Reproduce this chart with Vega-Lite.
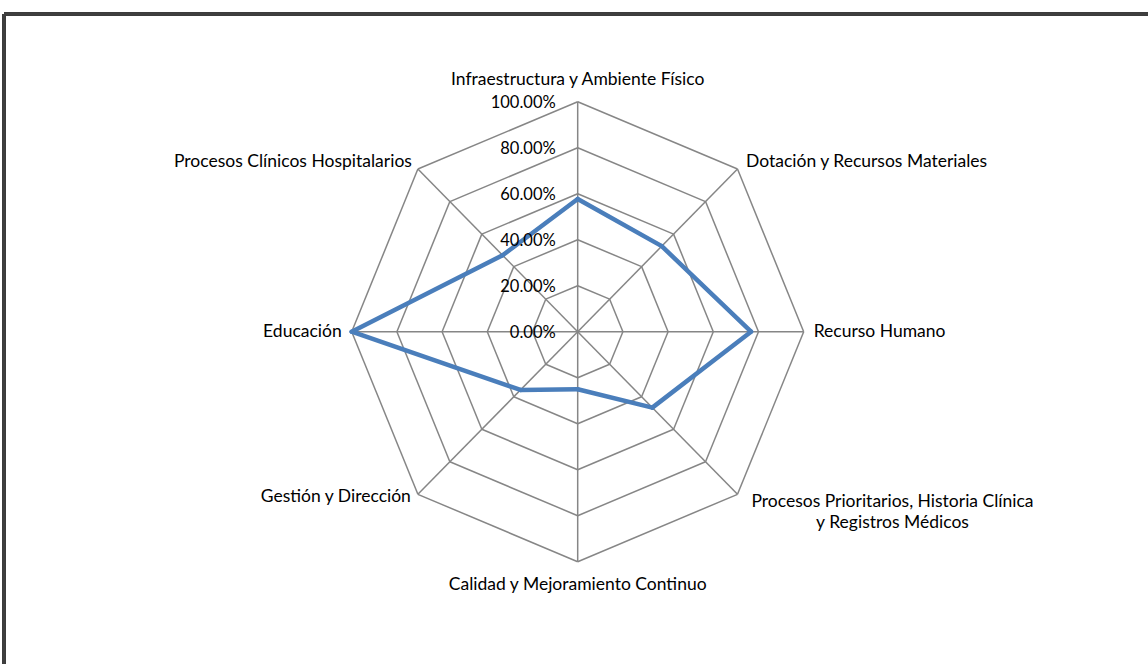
{
  "$schema": "https://vega.github.io/schema/vega-lite/v6.json",
  "width": 1144,
  "height": 650,
  "autosize": {"type": "none"},
  "padding": {"left": 4, "top": 14, "right": 0, "bottom": 0},
  "background": "white",
  "config": {
    "view": {"stroke": null},
    "text": {"font": "Lato", "fontSize": 17.5, "color": "#000000", "lineBreak": "\n", "lineHeight": 21}
  },
  "datasets": {
    "axes": [
      {"i": 0, "label": "Infraestructura y Ambiente Físico", "value": 0.577},
      {"i": 1, "label": "Dotación y Recursos Materiales", "value": 0.526},
      {"i": 2, "label": "Recurso Humano", "value": 0.767},
      {"i": 3, "label": "Procesos Prioritarios, Historia Clínica\ny Registros Médicos", "value": 0.467},
      {"i": 4, "label": "Calidad y Mejoramiento Continuo", "value": 0.25},
      {"i": 5, "label": "Gestión y Dirección", "value": 0.358},
      {"i": 6, "label": "Educación", "value": 1.0},
      {"i": 7, "label": "Procesos Clínicos Hospitalarios", "value": 0.47}
    ],
    "levels": [
      {"level": 0, "i": [0, 1, 2, 3, 4, 5, 6, 7]},
      {"level": 0.2, "i": [0, 1, 2, 3, 4, 5, 6, 7]},
      {"level": 0.4, "i": [0, 1, 2, 3, 4, 5, 6, 7]},
      {"level": 0.6, "i": [0, 1, 2, 3, 4, 5, 6, 7]},
      {"level": 0.8, "i": [0, 1, 2, 3, 4, 5, 6, 7]},
      {"level": 1.0, "i": [0, 1, 2, 3, 4, 5, 6, 7]}
    ]
  },
  "layer": [
    {
      "data": {"name": "levels"},
      "transform": [{"flatten": ["i"]}],
      "mark": {"type": "rule", "color": "#3f3f3f", "strokeWidth": 2.5},
      "encoding": {
        "y": {"datum": 1.3813, "type": "quantitative", "scale": {"domain": [-1.4448, 1.3813], "nice": false, "zero": false}, "axis": null}
      }
    },
    {
      "data": {"name": "levels"},
      "transform": [{"flatten": ["i"]}],
      "mark": {"type": "rule", "color": "#3f3f3f", "strokeWidth": 2.5},
      "encoding": {
        "x": {"datum": -2.5385, "type": "quantitative", "scale": {"domain": [-2.5385, 2.5235], "nice": false, "zero": false}, "axis": null}
      }
    },
    {
      "data": {"name": "levels"},
      "transform": [
        {"flatten": ["i"]},
        {"filter": "datum.level > 0"},
        {"calculate": "datum.level * sin(datum.i * PI / 4)", "as": "x"},
        {"calculate": "datum.level * cos(datum.i * PI / 4)", "as": "y"},
        {"calculate": "datum.level * sin((datum.i + 1) * PI / 4)", "as": "x2"},
        {"calculate": "datum.level * cos((datum.i + 1) * PI / 4)", "as": "y2"}
      ],
      "mark": {"type": "rule", "color": "#868686", "strokeWidth": 1.5},
      "encoding": {
        "x": {"field": "x", "type": "quantitative", "scale": {"domain": [-2.5385, 2.5235], "nice": false, "zero": false}, "axis": null},
        "y": {"field": "y", "type": "quantitative", "scale": {"domain": [-1.4448, 1.3813], "nice": false, "zero": false}, "axis": null},
        "x2": {"field": "x2"},
        "y2": {"field": "y2"}
      }
    },
    {
      "data": {"name": "axes"},
      "transform": [
        {"calculate": "0", "as": "x"},
        {"calculate": "0", "as": "y"},
        {"calculate": "sin(datum.i * PI / 4)", "as": "x2"},
        {"calculate": "cos(datum.i * PI / 4)", "as": "y2"}
      ],
      "mark": {"type": "rule", "color": "#868686", "strokeWidth": 1.5},
      "encoding": {
        "x": {"field": "x", "type": "quantitative", "axis": null},
        "y": {"field": "y", "type": "quantitative", "axis": null},
        "x2": {"field": "x2"},
        "y2": {"field": "y2"}
      }
    },
    {
      "data": {"name": "axes"},
      "transform": [
        {"calculate": "(datum.i + 1) % 8", "as": "nxt"},
        {"lookup": "nxt", "from": {"data": {"name": "axes"}, "key": "i", "fields": ["value"]}, "as": ["nv"]},
        {"calculate": "datum.value * sin(datum.i * PI / 4)", "as": "x"},
        {"calculate": "datum.value * cos(datum.i * PI / 4)", "as": "y"},
        {"calculate": "datum.nv * sin(datum.nxt * PI / 4)", "as": "x2"},
        {"calculate": "datum.nv * cos(datum.nxt * PI / 4)", "as": "y2"}
      ],
      "mark": {"type": "rule", "color": "#4a7ebb", "strokeWidth": 4.5, "strokeCap": "round"},
      "encoding": {
        "x": {"field": "x", "type": "quantitative", "axis": null},
        "y": {"field": "y", "type": "quantitative", "axis": null},
        "x2": {"field": "x2"},
        "y2": {"field": "y2"}
      }
    },
    {
      "data": {"name": "levels"},
      "transform": [
        {"calculate": "0", "as": "x"},
        {"calculate": "datum.level", "as": "y"}
      ],
      "mark": {"type": "text", "align": "right", "baseline": "middle", "dx": -22, "dy": 1, "fontSize": 16.5},
      "encoding": {
        "x": {"field": "x", "type": "quantitative", "axis": null},
        "y": {"field": "y", "type": "quantitative", "axis": null},
        "text": {"field": "level", "type": "quantitative", "format": ".2%"}
      }
    },
    {
      "data": {"name": "axes"},
      "transform": [
        {"filter": "datum.i == 0"},
        {"calculate": "sin(datum.i * PI / 4)", "as": "x"},
        {"calculate": "cos(datum.i * PI / 4)", "as": "y"}
      ],
      "mark": {"type": "text", "align": "center", "baseline": "middle", "dy": -22},
      "encoding": {
        "x": {"field": "x", "type": "quantitative", "axis": null},
        "y": {"field": "y", "type": "quantitative", "axis": null},
        "text": {"field": "label"}
      }
    },
    {
      "data": {"name": "axes"},
      "transform": [
        {"filter": "datum.i == 1"},
        {"calculate": "sin(datum.i * PI / 4)", "as": "x"},
        {"calculate": "cos(datum.i * PI / 4)", "as": "y"}
      ],
      "mark": {"type": "text", "align": "left", "baseline": "middle", "dx": 8.5, "dy": -7.5},
      "encoding": {
        "x": {"field": "x", "type": "quantitative", "axis": null},
        "y": {"field": "y", "type": "quantitative", "axis": null},
        "text": {"field": "label"}
      }
    },
    {
      "data": {"name": "axes"},
      "transform": [
        {"filter": "datum.i == 2"},
        {"calculate": "sin(datum.i * PI / 4)", "as": "x"},
        {"calculate": "cos(datum.i * PI / 4)", "as": "y"}
      ],
      "mark": {"type": "text", "align": "left", "baseline": "middle", "dx": 10, "dy": 0},
      "encoding": {
        "x": {"field": "x", "type": "quantitative", "axis": null},
        "y": {"field": "y", "type": "quantitative", "axis": null},
        "text": {"field": "label"}
      }
    },
    {
      "data": {"name": "axes"},
      "transform": [
        {"filter": "datum.i == 3"},
        {"calculate": "sin(datum.i * PI / 4)", "as": "x"},
        {"calculate": "cos(datum.i * PI / 4)", "as": "y"}
      ],
      "mark": {"type": "text", "align": "center", "baseline": "middle", "dx": 155, "dy": 8},
      "encoding": {
        "x": {"field": "x", "type": "quantitative", "axis": null},
        "y": {"field": "y", "type": "quantitative", "axis": null},
        "text": {"field": "label"}
      }
    },
    {
      "data": {"name": "axes"},
      "transform": [
        {"filter": "datum.i == 4"},
        {"calculate": "sin(datum.i * PI / 4)", "as": "x"},
        {"calculate": "cos(datum.i * PI / 4)", "as": "y"}
      ],
      "mark": {"type": "text", "align": "center", "baseline": "middle", "dy": 23},
      "encoding": {
        "x": {"field": "x", "type": "quantitative", "axis": null},
        "y": {"field": "y", "type": "quantitative", "axis": null},
        "text": {"field": "label"}
      }
    },
    {
      "data": {"name": "axes"},
      "transform": [
        {"filter": "datum.i == 5"},
        {"calculate": "sin(datum.i * PI / 4)", "as": "x"},
        {"calculate": "cos(datum.i * PI / 4)", "as": "y"}
      ],
      "mark": {"type": "text", "align": "right", "baseline": "middle", "dx": -7, "dy": 3},
      "encoding": {
        "x": {"field": "x", "type": "quantitative", "axis": null},
        "y": {"field": "y", "type": "quantitative", "axis": null},
        "text": {"field": "label"}
      }
    },
    {
      "data": {"name": "axes"},
      "transform": [
        {"filter": "datum.i == 6"},
        {"calculate": "sin(datum.i * PI / 4)", "as": "x"},
        {"calculate": "cos(datum.i * PI / 4)", "as": "y"}
      ],
      "mark": {"type": "text", "align": "right", "baseline": "middle", "dx": -10, "dy": 0},
      "encoding": {
        "x": {"field": "x", "type": "quantitative", "axis": null},
        "y": {"field": "y", "type": "quantitative", "axis": null},
        "text": {"field": "label"}
      }
    },
    {
      "data": {"name": "axes"},
      "transform": [
        {"filter": "datum.i == 7"},
        {"calculate": "sin(datum.i * PI / 4)", "as": "x"},
        {"calculate": "cos(datum.i * PI / 4)", "as": "y"}
      ],
      "mark": {"type": "text", "align": "right", "baseline": "middle", "dx": -6, "dy": -7},
      "encoding": {
        "x": {"field": "x", "type": "quantitative", "axis": null},
        "y": {"field": "y", "type": "quantitative", "axis": null},
        "text": {"field": "label"}
      }
    }
  ]
}
